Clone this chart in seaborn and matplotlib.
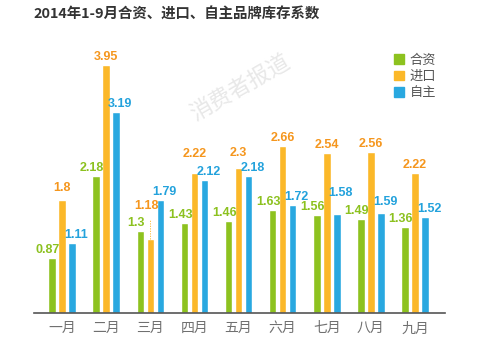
import pandas as pd
import matplotlib.pyplot as plt
import seaborn as sns

# chart data
months = ["一月", "二月", "三月", "四月", "五月", "六月", "七月", "八月", "九月"]
series = ["合资", "进口", "自主"]
jv_values = [0.87, 2.18, 1.3, 1.43, 1.46, 1.63, 1.56, 1.49, 1.36]
import_values = [1.8, 3.95, 1.18, 2.22, 2.3, 2.66, 2.54, 2.56, 2.22]
own_values = [1.11, 3.19, 1.79, 2.12, 2.18, 1.72, 1.58, 1.59, 1.52]
value_labels = {
    "合资": ["0.87", "2.18", "1.3", "1.43", "1.46", "1.63", "1.56", "1.49", "1.36"],
    "进口": ["1.8", "3.95", "1.18", "2.22", "2.3", "2.66", "2.54", "2.56", "2.22"],
    "自主": ["1.11", "3.19", "1.79", "2.12", "2.18", "1.72", "1.58", "1.59", "1.52"],
}

bar_colors = ["#8dc21f", "#fbb829", "#29a8e0"]
text_colors = ["#8cc11f", "#f5961d", "#23a2dc"]

# extra lift (points) for labels nudged up to avoid collisions
label_lift = {
    ("进口", "一月"): 3, ("进口", "三月"): 18, ("进口", "四月"): 8,
    ("进口", "五月"): 5, ("自主", "七月"): 9, ("自主", "八月"): 2,
}

df = pd.DataFrame({
    "month": months * 3,
    "type": [series[0]] * 9 + [series[1]] * 9 + [series[2]] * 9,
    "value": jv_values + import_values + own_values,
})

sns.set_style("white")
plt.rcParams["font.family"] = ["Noto Sans CJK SC", "DejaVu Sans"]

fig = plt.figure(figsize=(4.82, 3.52), dpi=100)
ax = fig.add_axes([34 / 482, 39 / 352, 411 / 482, 283 / 352])

sns.barplot(data=df, x="month", y="value", hue="type", palette=bar_colors,
            width=0.68, gap=0.25, saturation=1, ax=ax, legend=False, errorbar=None)

ax.set_xlim(-0.635, 8.68)
ax.set_ylim(0, 4.5)

# value labels
x_shift = [-3, 0, 3]
for i, (name, cont) in enumerate(zip(series, ax.containers)):
    for j, bar in enumerate(cont):
        x = bar.get_x() + bar.get_width() / 2
        y = bar.get_height()
        dy = 1.5 + label_lift.get((name, months[j]), 0)
        xs = x_shift[i]
        if name == "进口" and months[j] == "三月":
            xs = -3
            ax.plot([x, x], [y, y + 0.3], ls=(0, (1.5, 1.5)), lw=0.6,
                    color=bar_colors[i])
        ax.annotate(value_labels[name][j], (x, y), xytext=(xs, dy),
                    textcoords="offset points", ha="center", va="bottom",
                    fontsize=9, fontweight="bold", color=text_colors[i],
                    family=["Liberation Sans", "DejaVu Sans"])

# axes styling
for side in ["top", "right", "left"]:
    ax.spines[side].set_visible(False)
ax.spines["bottom"].set_color("#555555")
ax.spines["bottom"].set_linewidth(1.2)
ax.set_yticks([])
ax.tick_params(axis="x", length=0, pad=6, labelsize=10, labelcolor="#707070")
ax.set_xlabel("")
ax.set_ylabel("")

# legend
handles = [plt.Rectangle((0, 0), 1, 1, color=c) for c in bar_colors]
fig.legend(handles, series, loc="upper left", bbox_to_anchor=(382 / 482, 1 - 42 / 352),
           frameon=False, handlelength=0.75, handleheight=0.75, handletextpad=0.45,
           labelspacing=0.25, fontsize=9.5, labelcolor="#555555")

# title and watermark
fig.text(33 / 482, 1 - 15 / 352, "2014年1-9月合资、进口、自主品牌库存系数",
         fontsize=10.4, fontweight="bold", color="#333333", va="center", ha="left")
fig.text(240 / 482, 1 - 88 / 352, "消费者报道", fontsize=16, color="#e8e8e8",
         rotation=30, ha="center", va="center")

fig.savefig("out.png", dpi=100)
